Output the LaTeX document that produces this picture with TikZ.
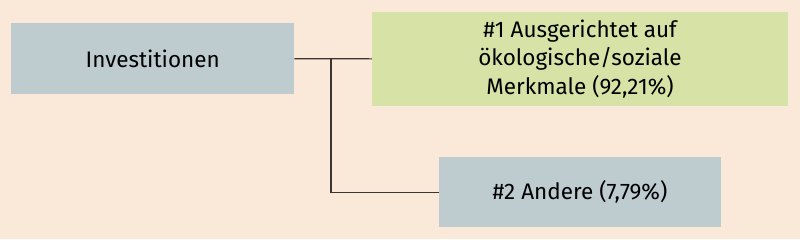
\documentclass[tikz,border=0pt]{standalone}
\usepackage{fontspec}
\setmainfont{Fira Sans}
\usetikzlibrary{positioning}
\definecolor{bgpeach}{HTML}{FAE8D8}
\definecolor{boxgrey}{HTML}{BECBCF}
\definecolor{boxgreen}{HTML}{D7E2A6}
\definecolor{linedark}{HTML}{3A3530}

\begin{document}
\begin{tikzpicture}[
  x=1pt, y=-1pt,
  box/.style={rectangle, fill=#1, inner sep=0pt, align=center,
              font=\fontsize{22.5}{28.5}\selectfont},
  link/.style={draw=linedark, line width=1.1pt}
]
  \fill[bgpeach] (0,0) rectangle (800,239);
  \useasboundingbox (0,0) rectangle (800,239);

  \node[box=boxgrey, minimum width=283pt, minimum height=71pt] (inv) at (152.7,58.7) {Investitionen};
  \node[box=boxgreen, minimum width=416pt, minimum height=94.5pt] (oeko) at (580,58.8)
    {\#1 Ausgerichtet auf\\ökologische/soziale\\Merkmale (92,21\%)};
  \node[box=boxgrey, minimum width=282pt, minimum height=70pt] (andere) at (580,192.3) {\#2 Andere (7,79\%)};

  \coordinate (split) at (331,58.7);

  \draw[link] (inv.east) -- (oeko.west);
  \draw[link] (split) |- (andere.west);
\end{tikzpicture}
\end{document}
